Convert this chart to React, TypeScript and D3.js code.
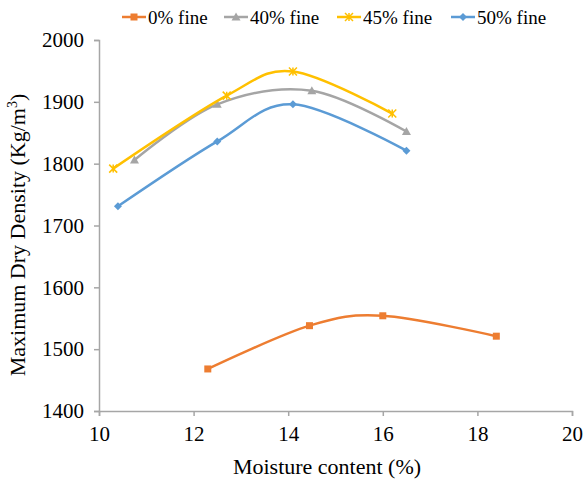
import React, { useEffect, useRef } from "react";
import * as d3 from "d3";

// moisture content (%) / max dry density (kg/m3)
const fine0X = [12.3, 14.45, 16.0, 18.4];
const fine0Y = [1468, 1538, 1554, 1521];
const fine40X = [10.75, 12.5, 14.5, 16.5];
const fine40Y = [1806, 1896, 1918, 1852];
const fine45X = [10.3, 12.7, 14.1, 16.2];
const fine45Y = [1792, 1910, 1949, 1881];
const fine50X = [10.4, 12.5, 14.1, 16.5];
const fine50Y = [1731, 1836, 1896, 1821];

const seriesNames = ["0% fine", "40% fine", "45% fine", "50% fine"];
const seriesColors = ["#ED7D31", "#A5A5A5", "#FFC000", "#5B9BD5"];
const seriesMarkers = ["square", "triangle", "star", "diamond"];

const xTicks = [10, 12, 14, 16, 18, 20];
const yTicks = [1400, 1500, 1600, 1700, 1800, 1900, 2000];

const W = 586;
const H = 486;
const FONT = "'Liberation Serif', 'Times New Roman', serif";

const drawMarker = (g, type, x, y, color) => {
  if (type === "square") {
    g.append("rect")
      .attr("x", x - 3.5)
      .attr("y", y - 3.5)
      .attr("width", 7)
      .attr("height", 7)
      .attr("fill", color);
  } else if (type === "triangle") {
    g.append("path")
      .attr("d", `M${x},${y - 4.5}L${x + 4.5},${y + 3.5}L${x - 4.5},${y + 3.5}Z`)
      .attr("fill", color);
  } else if (type === "diamond") {
    g.append("path")
      .attr("d", `M${x},${y - 4}L${x + 4},${y}L${x},${y + 4}L${x - 4},${y}Z`)
      .attr("fill", color);
  } else {
    g.append("path")
      .attr(
        "d",
        `M${x - 4},${y - 4}L${x + 4},${y + 4}M${x - 4},${y + 4}L${x + 4},${y - 4}M${x},${y - 4}L${x},${y + 4}`
      )
      .attr("stroke", color)
      .attr("stroke-width", 1.5)
      .attr("fill", "none");
  }
};

const App = () => {
  const ref = useRef(null);

  useEffect(() => {
    const svg = d3.select(ref.current);
    svg.selectAll("*").remove();
    const margin = { top: 40, right: 14, bottom: 75, left: 99 };
    const innerW = W - margin.left - margin.right;
    const innerH = H - margin.top - margin.bottom;

    const x = d3.scaleLinear().domain([10, 20]).range([0, innerW]);
    const y = d3.scaleLinear().domain([1400, 2000]).range([innerH, 0]);

    const g = svg
      .append("g")
      .attr("transform", `translate(${margin.left},${margin.top})`);

    // axes
    const yAxis = g.append("g").call(
      d3
        .axisLeft(y)
        .tickValues(yTicks)
        .tickFormat(d3.format("d"))
        .tickSize(5)
        .tickPadding(10)
    );
    const xAxis = g
      .append("g")
      .attr("transform", `translate(0,${innerH})`)
      .call(
        d3
          .axisBottom(x)
          .tickValues(xTicks)
          .tickFormat(d3.format("d"))
          .tickSize(5)
          .tickPadding(10)
      );
    [yAxis, xAxis].forEach((a) => {
      a.selectAll("path, line").attr("stroke", "#a6a6a6").attr("stroke-width", 1.5);
      a.selectAll("text")
        .attr("fill", "#000")
        .style("font-family", FONT)
        .style("font-size", "21px");
    });

    const xs = [fine0X, fine40X, fine45X, fine50X];
    const ys = [fine0Y, fine40Y, fine45Y, fine50Y];

    const line = d3
      .line()
      .x((d) => x(d[0]))
      .y((d) => y(d[1]))
      .curve(d3.curveCardinal.tension(0));

    // draw 50% first so order matches the reference stacking
    [3, 1, 2, 0].forEach((i) => {
      const pts = xs[i].map((v, k) => [v, ys[i][k]]);
      g.append("path")
        .attr("d", line(pts))
        .attr("fill", "none")
        .attr("stroke", seriesColors[i])
        .attr("stroke-width", 2.5)
        .attr("stroke-linecap", "round");
      pts.forEach((p) =>
        drawMarker(g, seriesMarkers[i], x(p[0]), y(p[1]), seriesColors[i])
      );
    });

    // legend
    const legendX = [122, 224, 337, 451];
    seriesNames.forEach((name, i) => {
      const lg = svg.append("g");
      lg.append("line")
        .attr("x1", legendX[i])
        .attr("x2", legendX[i] + 24)
        .attr("y1", 17)
        .attr("y2", 17)
        .attr("stroke", seriesColors[i])
        .attr("stroke-width", 2.5);
      drawMarker(lg, seriesMarkers[i], legendX[i] + 12, 17, seriesColors[i]);
      lg.append("text")
        .attr("x", legendX[i] + 26)
        .attr("y", 17)
        .attr("dy", "0.35em")
        .style("font-family", FONT)
        .style("font-size", "19px")
        .text(name);
    });

    // axis titles
    svg
      .append("text")
      .attr("x", 327)
      .attr("y", 474)
      .attr("text-anchor", "middle")
      .style("font-family", FONT)
      .style("font-size", "22px")
      .text("Moisture content (%)");

    const yt = svg
      .append("text")
      .attr("transform", "translate(25,235) rotate(-90)")
      .attr("text-anchor", "middle")
      .style("font-family", FONT)
      .style("font-size", "22px");
    yt.append("tspan").text("Maximum Dry Density (Kg/m");
    yt.append("tspan").attr("dy", -8).style("font-size", "14px").text("3");
    yt.append("tspan").attr("dy", 8).text(")");
  }, []);

  return (
    <svg
      ref={ref}
      width={W}
      height={H}
      style={{ position: "absolute", left: 0, top: 0, background: "#fff" }}
    ></svg>
  );
};

export default App;
